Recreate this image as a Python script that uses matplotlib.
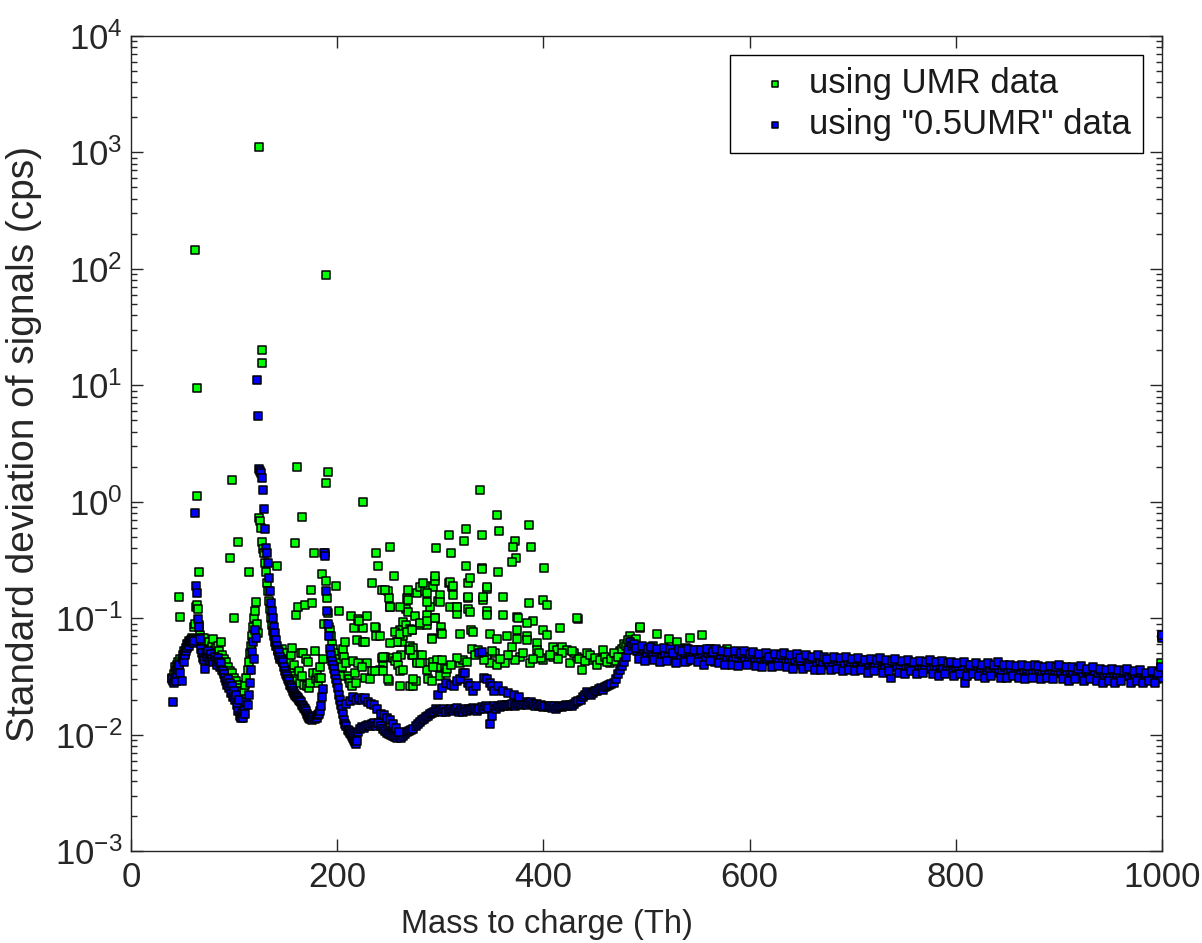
import numpy as np
import matplotlib
matplotlib.use("Agg")
import matplotlib.pyplot as plt
from matplotlib.ticker import LogLocator, NullFormatter

plt.rcParams['font.family'] = ['Liberation Sans', 'DejaVu Sans']
plt.rcParams['mathtext.fontset'] = 'custom'
plt.rcParams['mathtext.rm'] = 'Liberation Sans'
plt.rcParams['mathtext.it'] = 'Liberation Sans:italic'
plt.rcParams['mathtext.bf'] = 'Liberation Sans:bold'
plt.rcParams['axes.unicode_minus'] = False

# ---------------- data ----------------
# m/z grids (Th)
mz_a = np.arange(40, 122)          # 40..121
mz_b = np.arange(122, 220)         # 122..219
mz_c = np.arange(220, 488, 2)      # 220..486 (0.5UMR lower band)
mz_tail_half = np.arange(488, 1000, 3)
mz_tail_half2 = np.arange(489.5, 998, 3)
mz_tail_umr = np.arange(490, 1000, 4)

# "0.5UMR" (blue) series
half_a = [0.030, 0.019, 0.028, 0.031, 0.029, 0.033, 0.036, 0.040, 0.034, 0.029,
          0.045, 0.042, 0.048, 0.052, 0.056, 0.060, 0.058, 0.062, 0.063, 0.065,
          0.061, 0.064, 0.80, 0.19, 0.165, 0.098, 0.085, 0.067, 0.055, 0.050,
          0.046, 0.044, 0.037, 0.050, 0.047, 0.052, 0.046, 0.043, 0.049, 0.045,
          0.042, 0.047, 0.044, 0.040, 0.046, 0.042, 0.038, 0.041, 0.036, 0.035,
          0.033, 0.031, 0.029, 0.027, 0.030, 0.025, 0.028, 0.023, 0.026, 0.021,
          0.024, 0.020, 0.022, 0.018, 0.016, 0.020, 0.0145, 0.0140, 0.0155, 0.0140,
          0.0160, 0.0150, 0.019, 0.018, 0.022, 0.028, 0.036, 0.051, 0.062, 0.045,
          0.080, 0.068]
half_b = [11.0, 5.5, 1.9, 1.85, 1.75, 1.6, 1.26, 0.86, 0.58, 0.40,
          0.36, 0.30, 0.22, 0.17, 0.135, 0.115, 0.10, 0.085, 0.075, 0.065,
          0.058, 0.053, 0.051, 0.047, 0.044, 0.042, 0.038, 0.035, 0.033, 0.032,
          0.030, 0.029, 0.027, 0.026, 0.025, 0.024, 0.023, 0.022, 0.0215, 0.021,
          0.0205, 0.020, 0.0195, 0.019, 0.018, 0.0175, 0.017, 0.0165, 0.016, 0.015,
          0.0145, 0.0139, 0.0136, 0.0140, 0.0135, 0.0142, 0.0138, 0.0145, 0.0140, 0.0148,
          0.0150, 0.0160, 0.0175, 0.021, 0.0245, 0.36, 0.34, 0.17, 0.115, 0.09,
          0.070, 0.054, 0.048, 0.043, 0.040, 0.037, 0.033, 0.030, 0.028, 0.025,
          0.022, 0.020, 0.018, 0.0165, 0.0150, 0.0135, 0.0125, 0.0118, 0.0110, 0.0107,
          0.0104, 0.0102, 0.0097, 0.0093, 0.0090, 0.0086, 0.0083, 0.0088]
half_c = [0.0105, 0.0112, 0.0117, 0.0115, 0.0118, 0.0121, 0.0119, 0.0123, 0.0126, 0.0120,
          0.0126, 0.0118, 0.0112, 0.0108, 0.0104, 0.0102, 0.0100, 0.0098, 0.0095, 0.0093,
          0.0097, 0.0093, 0.0098, 0.0102, 0.0105, 0.0108, 0.0110, 0.0112, 0.0118, 0.0125,
          0.0130, 0.0135, 0.0138, 0.0143, 0.0146, 0.0150, 0.0155, 0.0158, 0.0165, 0.0160,
          0.0162, 0.0158, 0.0165, 0.0157, 0.0162, 0.0168, 0.0160, 0.0165, 0.0170, 0.0158,
          0.0163, 0.0157, 0.0166, 0.0160, 0.0168, 0.0162, 0.0170, 0.0165, 0.0160, 0.0168,
          0.0172, 0.0165, 0.0175, 0.0170, 0.0125, 0.0145, 0.0175, 0.0168, 0.0178, 0.0172,
          0.0180, 0.0175, 0.0182, 0.0176, 0.0180, 0.0185, 0.0178, 0.0183, 0.0188, 0.0180,
          0.0185, 0.0190, 0.0182, 0.0188, 0.0192, 0.0185, 0.0178, 0.0183, 0.0176, 0.0180,
          0.0174, 0.0178, 0.0172, 0.0176, 0.0170, 0.0175, 0.0168, 0.0173, 0.0178, 0.0172,
          0.0176, 0.0180, 0.0175, 0.0182, 0.0178, 0.0185, 0.0190, 0.0195, 0.0200, 0.0210,
          0.0220, 0.0235, 0.0225, 0.0218, 0.0228, 0.0240, 0.0236, 0.0245, 0.0250, 0.0242,
          0.0255, 0.0262, 0.0270, 0.0275, 0.0280, 0.0300, 0.0330, 0.0360, 0.0390, 0.0420,
          0.0470, 0.0530, 0.0620, 0.0580]
half_branch_mz = [209, 212, 215, 218, 221, 224, 227, 230, 233, 236, 239, 242, 245, 248,
                  251, 254, 257, 260, 298, 302, 306, 310, 313, 316, 319, 322, 324, 327,
                  329, 332, 335, 338, 340, 342, 345, 348, 350, 352, 356, 361, 366, 371, 376]
half_branch = [0.0185, 0.0195, 0.021, 0.020, 0.0205, 0.0200, 0.0205, 0.019, 0.0185, 0.018,
               0.0165, 0.015, 0.0147, 0.0140, 0.0135, 0.0125, 0.0115, 0.0106,
               0.022, 0.025, 0.028, 0.027, 0.026, 0.029, 0.030, 0.034, 0.034, 0.028,
               0.026, 0.024, 0.026, 0.050, 0.051, 0.031, 0.030, 0.028, 0.026, 0.024,
               0.026, 0.024, 0.023, 0.022, 0.021]
half_tail = [0.060, 0.052, 0.047, 0.055, 0.049, 0.045, 0.051, 0.048, 0.053, 0.046,
             0.050, 0.047, 0.044, 0.052, 0.048, 0.046, 0.050, 0.043, 0.049, 0.047,
             0.051, 0.045, 0.048, 0.044, 0.050, 0.046, 0.042, 0.049, 0.045, 0.047,
             0.044, 0.048, 0.043, 0.046, 0.049, 0.041, 0.045, 0.047, 0.043, 0.046,
             0.044, 0.042, 0.047, 0.043, 0.045, 0.040, 0.046, 0.043, 0.044, 0.041,
             0.045, 0.042, 0.044, 0.040, 0.043, 0.046, 0.041, 0.044, 0.042, 0.039,
             0.043, 0.041, 0.044, 0.040, 0.042, 0.045, 0.039, 0.042, 0.040, 0.043,
             0.041, 0.039, 0.042, 0.044, 0.040, 0.038, 0.041, 0.043, 0.039, 0.040,
             0.042, 0.037, 0.040, 0.031, 0.041, 0.038, 0.040, 0.042, 0.039, 0.037,
             0.041, 0.038, 0.040, 0.036, 0.039, 0.042, 0.037, 0.039, 0.038, 0.040,
             0.037, 0.039, 0.036, 0.040, 0.038, 0.035, 0.039, 0.028, 0.037, 0.038,
             0.036, 0.039, 0.037, 0.035, 0.038, 0.036, 0.039, 0.034, 0.037, 0.036,
             0.038, 0.035, 0.037, 0.036, 0.034, 0.038, 0.035, 0.037, 0.033, 0.036,
             0.035, 0.037, 0.034, 0.036, 0.035, 0.033, 0.036, 0.034, 0.035, 0.037,
             0.034, 0.036, 0.033, 0.035, 0.034, 0.032, 0.035, 0.033, 0.036, 0.034,
             0.033, 0.035, 0.032, 0.034, 0.033, 0.031, 0.034, 0.032, 0.033, 0.035,
             0.032, 0.034, 0.031, 0.033, 0.032, 0.030, 0.033, 0.031, 0.032, 0.030,
             0.031]
half_tail2 = [0.056, 0.045, 0.058, 0.043, 0.054, 0.057, 0.044, 0.055, 0.042, 0.056,
              0.043, 0.055, 0.050, 0.041, 0.054, 0.052, 0.042, 0.055, 0.044, 0.053,
              0.042, 0.053, 0.040, 0.054, 0.043, 0.051, 0.055, 0.041, 0.052, 0.040,
              0.051, 0.040, 0.052, 0.039, 0.050, 0.052, 0.040, 0.049, 0.051, 0.039,
              0.049, 0.038, 0.050, 0.047, 0.038, 0.049, 0.039, 0.048, 0.050, 0.038,
              0.048, 0.037, 0.049, 0.046, 0.037, 0.048, 0.038, 0.047, 0.036, 0.048,
              0.036, 0.047, 0.045, 0.036, 0.047, 0.037, 0.046, 0.035, 0.047, 0.036,
              0.045, 0.035, 0.046, 0.036, 0.044, 0.034, 0.045, 0.035, 0.044, 0.046,
              0.034, 0.044, 0.035, 0.043, 0.045, 0.034, 0.043, 0.033, 0.044, 0.035,
              0.042, 0.033, 0.043, 0.034, 0.042, 0.044, 0.033, 0.042, 0.032, 0.043,
              0.033, 0.041, 0.042, 0.032, 0.041, 0.033, 0.042, 0.032, 0.040, 0.033,
              0.041, 0.032, 0.040, 0.031, 0.041, 0.032, 0.040, 0.042, 0.031, 0.040,
              0.031, 0.040, 0.032, 0.039, 0.031, 0.040, 0.030, 0.039, 0.031, 0.040,
              0.039, 0.030, 0.038, 0.031, 0.039, 0.030, 0.038, 0.040, 0.030, 0.038,
              0.029, 0.038, 0.030, 0.037, 0.039, 0.029, 0.037, 0.030, 0.038, 0.029,
              0.037, 0.028, 0.036, 0.029, 0.037, 0.028, 0.036, 0.029, 0.035, 0.037,
              0.028, 0.035, 0.029, 0.036, 0.028, 0.034, 0.029, 0.035, 0.028, 0.034]
half_end_mz = [999, 1000, 1000]
half_end = [0.038, 0.068, 0.072]

# UMR (green) series
umr_a = [0.031, 0.029, 0.033, 0.038, 0.036, 0.040, 0.042, 0.038, 0.045, 0.043,
         0.048, 0.052, 0.050, 0.056, 0.060, 0.058, 0.064, 0.062, 0.065, 0.068,
         0.066, 0.085, 0.090, 0.125, 0.13, 0.12, 0.087, 0.072, 0.068, 0.063,
         0.060, 0.068, 0.058, 0.055, 0.060, 0.052, 0.063, 0.055, 0.050, 0.058,
         0.066, 0.053, 0.056, 0.050, 0.058, 0.052, 0.047, 0.062, 0.048, 0.044,
         0.045, 0.040, 0.042, 0.036, 0.038, 0.033, 0.035, 0.030, 0.034, 0.028,
         0.031, 0.027, 0.029, 0.025, 0.027, 0.023, 0.025, 0.022, 0.024, 0.021,
         0.024, 0.027, 0.031, 0.036, 0.042, 0.050, 0.058, 0.070, 0.085, 0.10,
         0.115, 0.139]
umr_b = [0.09, 0.075, 0.72, 0.68, 0.60, 0.45, 0.39, 0.36, 0.30, 0.25,
         0.20, 0.17, 0.14, 0.12, 0.10, 0.088, 0.078, 0.070, 0.063, 0.058,
         0.28, 0.052, 0.048, 0.045, 0.055, 0.042, 0.050, 0.040, 0.038, 0.045,
         0.036, 0.042, 0.034, 0.048, 0.056, 0.032, 0.040, 0.030, 0.106, 0.029,
         0.126, 0.035, 0.028, 0.050, 0.032, 0.050, 0.027, 0.130, 0.045, 0.026,
         0.042, 0.025, 0.028, 0.175, 0.135, 0.034, 0.052, 0.030, 0.034, 0.028,
         0.031, 0.038, 0.031, 0.24, 0.045, 0.09, 0.36, 0.21, 0.15, 0.11,
         0.085, 0.080, 0.070, 0.060, 0.055, 0.050, 0.045, 0.19, 0.040, 0.041,
         0.115, 0.035, 0.032, 0.038, 0.054, 0.047, 0.063, 0.041, 0.032, 0.030,
         0.028, 0.104, 0.026, 0.043, 0.083, 0.034, 0.028, 0.065]
umr_out_mz = [47, 48, 62, 64, 64, 66, 96, 98, 100, 104, 114, 124.5, 126.8, 127,
              158.6, 160.7, 166, 177.8, 188.8, 189.5, 191.4, 224.7]
umr_out = [0.153, 0.103, 145, 9.4, 1.13, 0.25, 0.33, 1.54, 0.10, 0.45, 0.25, 1120, 20, 15.5,
           0.44, 2.0, 0.74, 0.36, 1.46, 88, 1.8, 1.0]
umr_mid_mz = [220.5, 228.6, 224.7, 238, 225, 227, 238, 220.5, 228.6, 244.7,
              241.5, 234, 244, 221, 236.7, 224, 227, 232, 237, 243,
              246, 250, 251, 238, 240, 255, 234, 243, 249.6, 251,
              250, 253.7, 249.6, 256, 258, 259, 261, 261, 261.5, 262.5,
              264, 264, 257.7, 261, 267, 267, 267.4, 269, 269, 269,
              269.5, 270.6, 270.6, 271, 272.5, 272.5, 274, 274, 275.5, 276,
              277, 277.5, 279, 280, 280, 282, 285, 286.8, 287, 288.4,
              288.4, 290, 290, 291.5, 291.5, 293, 293.4, 295, 295, 295.8,
              295, 296.5, 298, 298, 300, 300, 301, 301, 304.7, 306,
              308, 309, 310, 311, 312.6, 316, 316, 323, 325, 325,
              327, 327, 327, 330, 340.8, 341.5, 345, 345]
umr_mid = [0.098, 0.104, 0.083, 0.083, 0.063, 0.063, 0.070, 0.041, 0.041, 0.041,
           0.036, 0.035, 0.035, 0.095, 0.085, 0.038, 0.031, 0.030, 0.035, 0.046,
           0.047, 0.029, 0.41, 0.36, 0.28, 0.23, 0.20, 0.175, 0.17, 0.124,
           0.15, 0.046, 0.030, 0.043, 0.062, 0.040, 0.035, 0.026, 0.048, 0.062,
           0.070, 0.093, 0.063, 0.080, 0.088, 0.12, 0.15, 0.145, 0.175, 0.114,
           0.054, 0.081, 0.058, 0.026, 0.080, 0.048, 0.056, 0.026, 0.104, 0.029,
           0.165, 0.043, 0.048, 0.087, 0.187, 0.048, 0.17, 0.106, 0.088, 0.19,
           0.030, 0.124, 0.041, 0.068, 0.029, 0.187, 0.042, 0.21, 0.10, 0.40,
           0.23, 0.044, 0.14, 0.038, 0.16, 0.032, 0.085, 0.075, 0.038, 0.034,
           0.20, 0.125, 0.36, 0.185, 0.16, 0.126, 0.108, 0.46, 0.28, 0.58,
           0.20, 0.15, 0.12, 0.08, 0.27, 0.145, 0.18, 0.115]
umr_hi_mz = [338.5, 355.4, 386.1, 357, 308.4, 340.1, 372.5, 370.8, 388, 373.1,
             369.3, 340.1, 400.6, 356.3, 328.8, 283.5, 309.4, 312.6, 345, 246.4,
             286.8, 299.7, 327.2, 341.8, 361.2, 386.1, 400, 403.2, 251.2, 286.8,
             315.9, 328.8, 345, 361.2, 374.1, 390.3, 400, 416.2, 434, 261,
             241.5, 251.2, 256, 261, 267.4, 272.2, 280.3, 286.8, 294.9, 301.3,
             291.6, 319.1, 332.1, 348.2, 354.7, 364.4, 374.1, 383.8, 393.5, 403.2,
             409.7, 412.9, 383.8, 375.7, 244.7, 257.7, 273.8, 277, 286.8, 293.2,
             301.3, 306.2, 319.1, 322.4, 330.4, 336.9, 345, 353.1, 348.2, 354.7,
             362.8, 369.3, 374.1, 383.8, 393.5, 377.3, 387, 400, 409.7, 417.8,
             422.6, 425.9, 432.3, 437.2, 442.1, 448.5, 458.2, 464.7, 474.4, 484.1,
             493.7, 270.6, 280.3, 264.1, 273.8, 433]
umr_hi = [1.26, 0.77, 0.63, 0.56, 0.52, 0.52, 0.46, 0.41, 0.41, 0.327,
          0.306, 0.265, 0.268, 0.251, 0.22, 0.20, 0.206, 0.19, 0.185, 0.175,
          0.164, 0.139, 0.153, 0.153, 0.153, 0.134, 0.145, 0.13, 0.126, 0.139,
          0.126, 0.113, 0.107, 0.107, 0.103, 0.095, 0.079, 0.082, 0.099, 0.126,
          0.07, 0.061, 0.077, 0.074, 0.077, 0.079, 0.091, 0.094, 0.10, 0.074,
          0.067, 0.074, 0.077, 0.074, 0.067, 0.07, 0.079, 0.07, 0.061, 0.072,
          0.057, 0.053, 0.091, 0.10, 0.047, 0.047, 0.048, 0.041, 0.036, 0.038,
          0.044, 0.037, 0.041, 0.044, 0.055, 0.053, 0.047, 0.05, 0.041, 0.04,
          0.041, 0.057, 0.067, 0.065, 0.053, 0.047, 0.041, 0.044, 0.047, 0.057,
          0.053, 0.041, 0.047, 0.036, 0.05, 0.044, 0.053, 0.041, 0.052, 0.07,
          0.082, 0.053, 0.041, 0.036, 0.03, 0.1]
umr_low_mz = [430, 435, 440, 445, 450, 452, 455, 460, 462, 466, 468, 470, 472, 476, 478,
              480, 482, 486, 428, 418, 414, 406, 398, 396, 390, 380, 372, 366, 358, 350,
              342, 334, 326, 316, 310]
umr_low = [0.05, 0.045, 0.043, 0.048, 0.046, 0.040, 0.044, 0.047, 0.042, 0.045, 0.05,
           0.043, 0.047, 0.055, 0.06, 0.058, 0.065, 0.062, 0.052, 0.05, 0.045, 0.048,
           0.046, 0.05, 0.045, 0.05, 0.044, 0.048, 0.045, 0.052, 0.044, 0.048, 0.042,
           0.046, 0.04]
umr_tail = [0.066, 0.084, 0.055, 0.052, 0.058, 0.073, 0.050, 0.054, 0.066, 0.052,
            0.063, 0.049, 0.056, 0.068, 0.051, 0.053, 0.072, 0.050, 0.055, 0.048,
            0.051, 0.049, 0.055, 0.047, 0.050, 0.048, 0.046, 0.049, 0.047, 0.045,
            0.048, 0.046, 0.044, 0.047, 0.045, 0.046, 0.043, 0.045, 0.044, 0.046,
            0.043, 0.045, 0.042, 0.044, 0.046, 0.043, 0.041, 0.044, 0.042, 0.043,
            0.045, 0.041, 0.043, 0.040, 0.042, 0.044, 0.041, 0.040, 0.042, 0.039,
            0.041, 0.043, 0.040, 0.039, 0.042, 0.040, 0.038, 0.041, 0.039, 0.040,
            0.038, 0.040, 0.042, 0.039, 0.037, 0.040, 0.038, 0.039, 0.037, 0.038,
            0.040, 0.037, 0.038, 0.036, 0.039, 0.037, 0.038, 0.036, 0.037, 0.035,
            0.038, 0.036, 0.037, 0.035, 0.036, 0.038, 0.035, 0.036, 0.034, 0.036,
            0.035, 0.036, 0.034, 0.038, 0.035, 0.033, 0.036, 0.034, 0.035, 0.033,
            0.034, 0.035, 0.033, 0.034, 0.032, 0.034, 0.033, 0.035, 0.032, 0.033,
            0.033, 0.032, 0.034, 0.031, 0.033, 0.032, 0.031, 0.033]
umr_end_mz = [999, 1000]
umr_end = [0.041, 0.070]

labels = ['using UMR data', 'using "0.5UMR" data']
x_ticks = [0, 200, 400, 600, 800, 1000]

# ---------------- assemble ----------------
umr_x = np.concatenate([mz_a, mz_b, umr_out_mz, umr_mid_mz, umr_hi_mz, umr_low_mz,
                        mz_tail_umr, umr_end_mz]).astype(float)
umr_y = np.concatenate([umr_a, umr_b, umr_out, umr_mid, umr_hi, umr_low,
                        umr_tail, umr_end]).astype(float)
half_x = np.concatenate([mz_a, mz_b, mz_c, half_branch_mz, mz_tail_half, mz_tail_half2,
                         half_end_mz]).astype(float)
half_y = np.concatenate([half_a, half_b, half_c, half_branch, half_tail, half_tail2,
                         half_end]).astype(float)

# ---------------- plot ----------------
axcol = '#262626'
fig = plt.figure(figsize=(12.02, 9.43), dpi=100)
ax = fig.add_axes([131 / 1202, 1 - 851.3 / 943, (1162 - 131) / 1202, (851.3 - 35.8) / 943])

ax.scatter(umr_x, umr_y, s=40, marker='s', c='#00ff00', edgecolors='black',
           linewidths=1.1, label=labels[0], zorder=2)
ax.scatter(half_x, half_y, s=40, marker='s', c='#0000ff', edgecolors='black',
           linewidths=1.1, label=labels[1], zorder=3)

ax.set_yscale('log')
ax.set_ylim(1e-3, 1e4)
ax.set_xlim(0, 1000)
ax.set_xticks(x_ticks)
ax.yaxis.set_major_locator(LogLocator(base=10, numticks=20))
ax.yaxis.set_minor_locator(LogLocator(base=10, subs=np.arange(2, 10), numticks=20))
ax.yaxis.set_minor_formatter(NullFormatter())

for sp in ax.spines.values():
    sp.set_color(axcol)
    sp.set_linewidth(1.0)
ax.tick_params(which='both', direction='in', top=True, right=True, color=axcol,
               labelcolor=axcol)
ax.tick_params(which='major', length=8.5, width=1.0, labelsize=25)
ax.tick_params(axis='x', which='major', pad=7)
ax.tick_params(axis='y', which='major', pad=6)
ax.tick_params(which='minor', length=4.5, width=1.0)

ax.set_xlabel('Mass to charge (Th)', fontsize=23.5, color=axcol)
ax.xaxis.set_label_coords(0.4035, -0.071)
ax.set_ylabel('Standard deviation of signals (cps)', fontsize=28, color=axcol)
ax.yaxis.set_label_coords(-0.086, 0.5)

leg = ax.legend(loc='upper right', bbox_to_anchor=(0.9816, 0.9765), borderaxespad=0,
                frameon=True, fancybox=False, edgecolor='black', framealpha=1,
                fontsize=25, handlelength=1.88, handletextpad=0.05, borderpad=0.35,
                labelspacing=0.23, markerscale=0.6)
leg.get_frame().set_linewidth(1.0)
for t in leg.get_texts():
    t.set_color('#1a1a1a')

fig.savefig('out.png', dpi=100)
